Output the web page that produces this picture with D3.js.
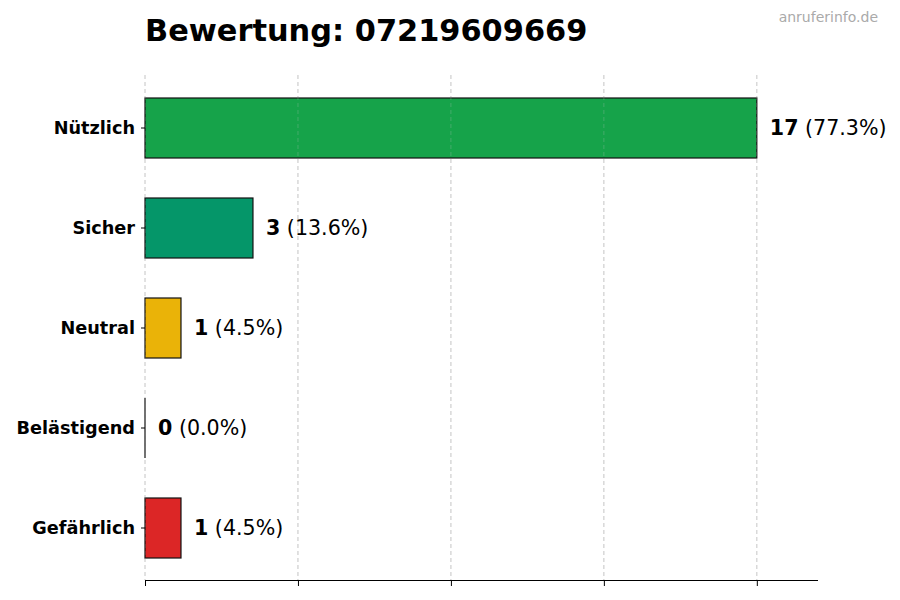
<!DOCTYPE html>
<html>
<head>
<meta charset="utf-8">
<script src="https://cdn.jsdelivr.net/npm/d3@7"></script>
<style>
body { margin: 0; background: #fff; }
text { font-family: "DejaVu Sans", sans-serif; }
</style>
</head>
<body>
<div id="chart"></div>
<script>
//Size and margins
var w = 900;
var h = 600;
var left = 145;
var right = 818;
var top_ = 78;
var bottom = 578;
var axisY = 580;

//Data
var categories = ["Nützlich", "Sicher", "Neutral", "Belästigend", "Gefährlich"];
var counts = [17, 3, 1, 0, 1];
var percents = ["77.3%", "13.6%", "4.5%", "0.0%", "4.5%"];
var colors = ["#16a34a", "#059669", "#eab308", "#9ca3af", "#dc2626"];
var maxCount = d3.max(counts);
var gridValues = [0, maxCount / 4, maxCount / 2, maxCount * 3 / 4, maxCount];

//Scales
var xScale = d3.scaleLinear()
.domain([0, maxCount * 1.1])
.range([left, right]);

var yScale = d3.scaleBand()
.domain(categories)
.range([top_, bottom])
.paddingInner(0.4)
.paddingOuter(0.2);

//Svg
var svg = d3.select("#chart")
.append("svg")
.attr("width", w)
.attr("height", h);

//Title and watermark
svg.append("text")
.attr("x", left)
.attr("y", 41)
.attr("font-size", 30.4)
.attr("font-weight", "bold")
.text("Bewertung: 07219609669");

svg.append("text")
.attr("x", 878)
.attr("y", 22)
.attr("text-anchor", "end")
.attr("font-size", 14)
.attr("fill", "#aaaaaa")
.text("anruferinfo.de");

//Grid lines
function drawGrid(opacity) {
	svg.append("g")
	.selectAll("line")
	.data(gridValues)
	.enter()
	.append("line")
	.attr("x1", function(d) { return xScale(d); })
	.attr("x2", function(d) { return xScale(d); })
	.attr("y1", 75)
	.attr("y2", axisY)
	.attr("stroke", "#cccccc")
	.attr("stroke-dasharray", "4,3")
	.attr("stroke-opacity", opacity);
}
drawGrid(1);

//Bars
var rows = categories.map(function(c, i) {
	return {cat: c, count: counts[i], pct: percents[i], color: colors[i]};
});

svg.append("g")
.selectAll("rect")
.data(rows)
.enter()
.append("rect")
.attr("x", xScale(0))
.attr("y", function(d) { return yScale(d.cat); })
.attr("width", function(d) { return xScale(d.count) - xScale(0); })
.attr("height", yScale.bandwidth())
.attr("fill", function(d) { return d.color; })
.attr("stroke", "#111")
.attr("stroke-width", 1.2);

//Zero-width bars still show their edge
svg.append("g")
.selectAll("line")
.data(rows.filter(function(d) { return d.count === 0; }))
.enter()
.append("line")
.attr("x1", xScale(0))
.attr("x2", xScale(0))
.attr("y1", function(d) { return yScale(d.cat); })
.attr("y2", function(d) { return yScale(d.cat) + yScale.bandwidth(); })
.attr("stroke", "#111")
.attr("stroke-width", 1.2);

drawGrid(0.25);

//Value labels
var labels = svg.append("g")
.selectAll("text")
.data(rows)
.enter()
.append("text")
.attr("x", function(d) { return xScale(d.count) + 13; })
.attr("y", function(d) { return yScale(d.cat) + yScale.bandwidth() / 2; })
.attr("dy", "0.35em")
.attr("font-size", 20.6);

labels.append("tspan")
.attr("font-weight", "bold")
.text(function(d) { return d.count; });

labels.append("tspan")
.text(function(d) { return " (" + d.pct + ")"; });

//Y axis (labels and ticks only)
var yAxis = d3.axisLeft(yScale).tickSize(4).tickPadding(6);
var yg = svg.append("g")
.attr("transform", "translate(" + left + ",0)")
.call(yAxis);
yg.select(".domain").remove();
yg.selectAll("text")
.attr("font-family", "DejaVu Sans")
.attr("font-size", 17.7)
.attr("font-weight", "bold")
.attr("fill", "#000");

//X axis (no labels)
var xAxis = d3.axisBottom(xScale)
.tickValues(gridValues)
.tickSize(6)
.tickFormat("");
var xg = svg.append("g")
.attr("transform", "translate(0," + axisY + ")")
.call(xAxis);
xg.select(".domain")
.attr("d", "M" + left + ",0.5H" + right);
</script>
</body>
</html>
